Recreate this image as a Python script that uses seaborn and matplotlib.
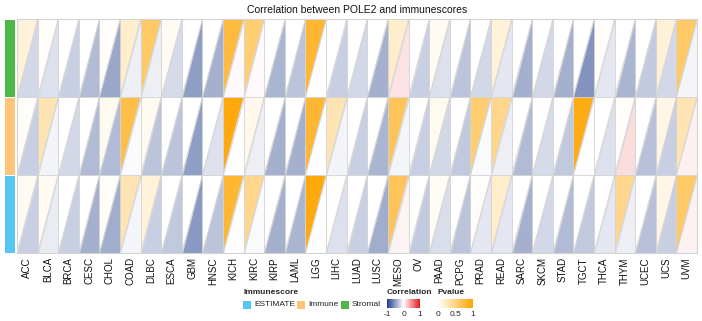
import numpy as np
import matplotlib
matplotlib.use("Agg")
import matplotlib.pyplot as plt
import seaborn as sns
from matplotlib.collections import PolyCollection
from matplotlib.colors import LinearSegmentedColormap, ListedColormap, Normalize
from matplotlib.cm import ScalarMappable
from matplotlib.patches import Rectangle

sns.set_theme(style="white")
plt.rcParams["font.family"] = ["Liberation Sans", "DejaVu Sans"]
plt.rcParams["axes.unicode_minus"] = False

cancers = ["ACC", "BLCA", "BRCA", "CESC", "CHOL", "COAD", "DLBC", "ESCA", "GBM",
           "HNSC", "KICH", "KIRC", "KIRP", "LAML", "LGG", "LIHC", "LUAD", "LUSC",
           "MESO", "OV", "PAAD", "PCPG", "PRAD", "READ", "SARC", "SKCM", "STAD",
           "TGCT", "THCA", "THYM", "UCEC", "UCS", "UVM"]
scores = ["Stromal", "Immune", "ESTIMATE"]

# correlation of POLE2 with each immune score
cor_stromal = [-0.20, -0.15, -0.25, -0.35, -0.45, -0.08, -0.08, -0.18, -0.50,
               -0.40, 0.02, 0.02, -0.38, -0.30, 0.00, -0.25, -0.20, -0.40,
               0.12, -0.25, -0.15, -0.30, -0.20, -0.12, -0.40, -0.20, -0.40,
               -0.55, -0.12, -0.38, -0.27, -0.20, -0.05]
cor_immune = [-0.25, -0.06, -0.20, -0.35, -0.35, -0.02, -0.30, -0.30, -0.50,
              -0.15, 0.00, -0.08, -0.40, -0.40, 0.00, -0.06, -0.25, -0.38,
              -0.05, -0.25, -0.20, -0.28, -0.03, -0.08, -0.35, -0.18, -0.28,
              0.00, -0.15, 0.15, -0.32, -0.25, 0.07]
cor_estimate = [-0.25, -0.10, -0.25, -0.40, -0.42, -0.05, -0.25, -0.28, -0.52,
                -0.30, 0.00, -0.03, -0.40, -0.38, 0.00, -0.15, -0.25, -0.42,
                0.05, -0.27, -0.17, -0.30, -0.12, -0.12, -0.40, -0.20, -0.35,
                -0.28, -0.12, -0.08, -0.32, -0.25, 0.06]

# p-values of those correlations
p_stromal = [0.15, 0.02, 0.00, 0.00, 0.02, 0.20, 0.60, 0.05, 0.00,
             0.00, 0.75, 0.55, 0.00, 0.00, 0.80, 0.00, 0.00, 0.00,
             0.20, 0.00, 0.05, 0.00, 0.00, 0.15, 0.00, 0.00, 0.00,
             0.00, 0.02, 0.00, 0.00, 0.16, 0.60]
p_immune = [0.03, 0.30, 0.00, 0.00, 0.06, 0.72, 0.06, 0.00, 0.00,
            0.00, 0.95, 0.08, 0.00, 0.00, 0.80, 0.30, 0.00, 0.00,
            0.65, 0.00, 0.06, 0.00, 0.55, 0.45, 0.00, 0.00, 0.00,
            0.92, 0.00, 0.03, 0.00, 0.10, 0.30]
p_estimate = [0.05, 0.05, 0.00, 0.00, 0.03, 0.30, 0.15, 0.00, 0.00,
              0.00, 0.80, 0.45, 0.00, 0.00, 0.95, 0.01, 0.00, 0.00,
              0.65, 0.00, 0.04, 0.00, 0.02, 0.20, 0.00, 0.00, 0.00,
              0.00, 0.00, 0.45, 0.00, 0.10, 0.60]

cor = np.array([cor_stromal, cor_immune, cor_estimate])
pval = np.array([p_stromal, p_immune, p_estimate])

score_colors = {"Stromal": "#4DB848", "Immune": "#FDC47A", "ESTIMATE": "#58C6F5"}
cor_cmap = LinearSegmentedColormap.from_list("cor", ["#1F3C88", "#FFFFFF", "#E3191C"])
p_cmap = LinearSegmentedColormap.from_list("pv", ["#FFFFFF", "#FFA500"])
cor_norm = Normalize(-1, 1)
p_norm = Normalize(0, 1)

W, H = 702, 321
fig = plt.figure(figsize=(W / 100, H / 100), dpi=100)

def fax(x0, y0, x1, y1):
    return fig.add_axes([x0 / W, 1 - y1 / H, (x1 - x0) / W, (y1 - y0) / H])

# main triangle heatmap: upper-left half = p-value, lower-right half = correlation
ax = fax(17, 19, 697, 253)
n_col, n_row = len(cancers), len(scores)
upper, lower, up_vals, lo_vals = [], [], [], []
for r in range(n_row):
    for c in range(n_col):
        upper.append([(c, r), (c + 1, r), (c, r + 1)])
        lower.append([(c + 1, r), (c + 1, r + 1), (c, r + 1)])
        up_vals.append(pval[r, c])
        lo_vals.append(cor[r, c])
pc_up = PolyCollection(upper, array=np.array(up_vals), cmap=p_cmap, norm=p_norm,
                       edgecolors="#D4D4D4", linewidths=0.6)
pc_lo = PolyCollection(lower, array=np.array(lo_vals), cmap=cor_cmap, norm=cor_norm,
                       edgecolors="#D4D4D4", linewidths=0.6)
ax.add_collection(pc_up)
ax.add_collection(pc_lo)
ax.set_xlim(0, n_col)
ax.set_ylim(n_row, 0)
ax.set_xticks(np.arange(n_col) + 0.5)
ax.set_xticklabels(cancers, rotation=90, fontsize=7, color="#111111")
ax.set_yticks([])
ax.tick_params(axis="x", length=0, pad=3)
for s in ax.spines.values():
    s.set_color("#D4D4D4")
    s.set_linewidth(0.8)

# score annotation strip
ax_ann = fax(4, 19, 15, 253)
ann = np.arange(n_row).reshape(-1, 1)
sns.heatmap(ann, ax=ax_ann, cmap=ListedColormap([score_colors[s] for s in scores]),
            cbar=False, linewidths=0.6, linecolor="white", xticklabels=False,
            yticklabels=False)

fig.text(357 / W, 1 - 10 / H, "Correlation between POLE2 and immunescores",
         ha="center", va="center", fontsize=7.5, color="#111111")

# legend: immune score categories
fig.text(243 / W, 1 - 293 / H, "Immunescore", fontsize=6, fontweight="bold",
         ha="left", va="center")
entries = [("ESTIMATE", 243), ("Immune", 297), ("Stromal", 341)]
for name, x0 in entries:
    fig.patches.append(Rectangle((x0 / W, 1 - 309 / H), 8 / W, 8 / H,
                                 transform=fig.transFigure,
                                 facecolor=score_colors[name], edgecolor="none"))
    fig.text((x0 + 11) / W, 1 - 305 / H, name, fontsize=6, ha="left", va="center",
             color="#222222")

# legend: correlation colour bar
fig.text(387 / W, 1 - 293 / H, "Correlation", fontsize=6, fontweight="bold",
         ha="left", va="center")
cax1 = fax(387, 299, 420, 308)
cb1 = fig.colorbar(ScalarMappable(norm=cor_norm, cmap=cor_cmap), cax=cax1,
                   orientation="horizontal", ticks=[-1, 0, 1])
cb1.outline.set_visible(False)
cb1.ax.tick_params(labelsize=6, length=3, direction="in", color="white", pad=2)

# legend: p-value colour bar
fig.text(438 / W, 1 - 293 / H, "Pvalue", fontsize=6, fontweight="bold",
         ha="left", va="center")
cax2 = fax(438, 299, 473, 308)
cb2 = fig.colorbar(ScalarMappable(norm=p_norm, cmap=p_cmap), cax=cax2,
                   orientation="horizontal", ticks=[0, 0.5, 1])
cb2.ax.set_xticklabels(["0", "0.5", "1"])
cb2.outline.set_visible(False)
cb2.ax.tick_params(labelsize=6, length=3, direction="in", color="white", pad=2)

fig.savefig("out.png", dpi=100)
